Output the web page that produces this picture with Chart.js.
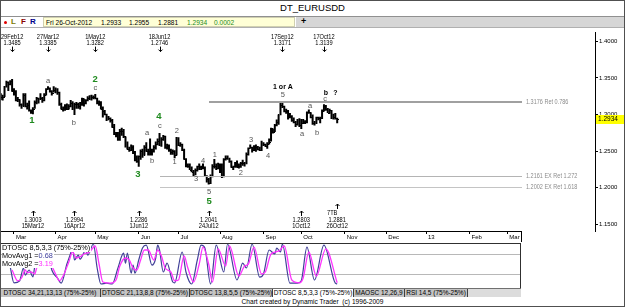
<!DOCTYPE html>
<html>
<head>
<meta charset="utf-8">
<script src="https://cdn.jsdelivr.net/npm/chart.js@4.4.0/dist/chart.umd.min.js"></script>
<style>
body { margin: 0; background: #fff; }
#wrap { position: relative; width: 625px; height: 307px; overflow: hidden; font-family: "Liberation Sans", Arial, sans-serif; color: #000; }
#title { position: absolute; left: 0; top: 3px; width: 625px; text-align: center; font-size: 9.5px; line-height: 10px; }
#tool { position: absolute; left: 0; top: 16px; width: 625px; height: 12px; border-top: 1px solid #909090; border-bottom: 1px solid #b0b0b0; box-sizing: border-box; }
#tool b { position: absolute; top: 0; font-size: 8px; line-height: 10px; }
#tool .dot { position: absolute; left: 4px; top: 4px; width: 3px; height: 3px; border-radius: 2px; background: #e00000; }
#quote { position: absolute; left: 43px; top: 0; width: 252px; height: 10px; background: #ffffd6; box-sizing: border-box; border: 1px solid #d0d0b0; }
#quote span { position: absolute; top: 0; font-size: 6.6px; line-height: 9px; white-space: nowrap; }
#strip { position: absolute; left: 296px; top: 0; width: 328px; height: 10px; background: #d6d6d6; }
#strip b { left: 5px; font-size: 9px; line-height: 9px; }
#price { position: absolute; left: 0; top: 28px; }
#osc { position: absolute; left: 0; top: 243px; }
.olab { position: absolute; left: 2px; background: #fff; font-size: 7.3px; line-height: 8px; white-space: nowrap; padding-right: 1px; }
#tabs { position: absolute; left: 0; top: 288px; width: 521px; height: 9px; background: #dcdcdc; border-top: 1px solid #707070; box-sizing: border-box; }
.tab { position: absolute; top: 0; height: 8px; font-size: 6.5px; line-height: 8px; text-align: center; background: #c4c4c4; border-right: 1px solid #404040; box-sizing: border-box; white-space: nowrap; }
.tab.on { background: #fff; }
#foot { position: absolute; left: 0; top: 297px; width: 625px; text-align: center; font-size: 6.6px; line-height: 9px; }
#frame { position: absolute; left: 0; top: 0; width: 625px; height: 307px; border: 1px solid #505050; box-sizing: border-box; pointer-events: none; }
</style>
</head>
<body>
<div id="wrap">
  <div id="title">DT_EURUSDD</div>
  <div id="tool">
    <span class="dot"></span>
    <b style="left:11px;color:#7a7a00">L</b>
    <b style="left:21px;color:#8b0000">F</b>
    <b style="left:30px;color:#00008b">R</b>
    <div id="quote">
      <span style="left:2px">Fri 26-Oct-2012</span>
      <span style="left:57px">1.2933</span>
      <span style="left:85px">1.2955</span>
      <span style="left:114px">1.2881</span>
      <span style="left:143px;color:#1c8c1c">1.2934</span>
      <span style="left:170px;color:#1c8c1c">0.0002</span>
    </div>
    <div id="strip"><b>+</b></div>
  </div>
  <canvas id="price" width="625" height="214"></canvas>
  <canvas id="osc" width="521" height="45"></canvas>
  <div class="olab" style="top:244px">DTOSC 8,5,3,3 (75%-25%)</div>
  <div class="olab" style="top:252px">MovAvg1 =<span style="color:#3c3c9c">0.68</span></div>
  <div class="olab" style="top:260px">MovAvg2 =<span style="color:#ff30ff">3.19</span></div>
  <div id="tabs">
    <div class="tab" style="left:0;width:101px">DTOSC 34,21,13,13 (75%-25%)</div>
    <div class="tab" style="left:101px;width:89px">DTOSC 21,13,8,8 (75%-25%)</div>
    <div class="tab" style="left:190px;width:83px">DTOSC 13,8,5,5 (75%-25%)</div>
    <div class="tab on" style="left:273px;width:81px">DTOSC 8,5,3,3 (75%-25%)</div>
    <div class="tab" style="left:354px;width:51px">MAOSC 12,26,9</div>
    <div class="tab" style="left:405px;width:63px">RSI 14,5 (75%-25%)</div>
  </div>
  <div id="foot">Chart created by Dynamic Trader&nbsp; (c) 1996-2009</div>
  <div id="frame"></div>
</div>
<script>
// trading-day index: 0 = Thu 1-Mar-2012, weekdays only
const firstDay = -7;

const highs = [
  1.3290, 1.3270, 1.3390, 1.3460, 1.3450, 1.3470, 1.3485,
  1.3360, 1.3330, 1.3240, 1.3210, 1.3150, 1.3290, 1.3290, 1.3160, 1.3190, 1.3070,
  1.3100, 1.3190, 1.3240, 1.3230, 1.3290, 1.3240, 1.3290, 1.3360, 1.3385, 1.3370,
  1.3330, 1.3385, 1.3370, 1.3360, 1.3310, 1.3160, 1.3110, 1.3140, 1.3150, 1.3140,
  1.3200, 1.3180, 1.3160, 1.3170, 1.3160, 1.3170, 1.3230, 1.3220, 1.3210, 1.3250,
  1.3265, 1.3270, 1.3260, 1.3282, 1.3230, 1.3190, 1.3180, 1.3110, 1.3060, 1.3010,
  1.2980, 1.2960, 1.2940, 1.2870, 1.2760, 1.2760, 1.2800, 1.2820, 1.2800, 1.2700,
  1.2630, 1.2560, 1.2590, 1.2580, 1.2500, 1.2440, 1.2440, 1.2520, 1.2530, 1.2580,
  1.2620, 1.2530, 1.2670, 1.2530, 1.2580, 1.2630, 1.2670, 1.2746, 1.2690, 1.2720,
  1.2710, 1.2600, 1.2590, 1.2530, 1.2520, 1.2510, 1.2693, 1.2690, 1.2620, 1.2600,
  1.2530, 1.2400, 1.2330, 1.2330, 1.2290, 1.2240, 1.2260, 1.2300, 1.2330, 1.2300,
  1.2330, 1.2290, 1.2170, 1.2130, 1.2180, 1.2320, 1.2390, 1.2330, 1.2340, 1.2330,
  1.2330, 1.2400, 1.2440, 1.2440, 1.2410, 1.2370, 1.2300, 1.2350, 1.2370, 1.2330,
  1.2350, 1.2380, 1.2350, 1.2480, 1.2550, 1.2590, 1.2560, 1.2580, 1.2590, 1.2570,
  1.2560, 1.2640, 1.2620, 1.2600, 1.2620, 1.2670, 1.2820, 1.2810, 1.2870, 1.2930,
  1.3000, 1.3170, 1.3171, 1.3120, 1.3080, 1.3060, 1.3020, 1.2990, 1.2960, 1.2910,
  1.2940, 1.2950, 1.2940, 1.2940, 1.2920, 1.3040, 1.3070, 1.3030, 1.3000, 1.2910,
  1.2970, 1.2970, 1.2970, 1.3070, 1.3139, 1.3130, 1.3090, 1.3080, 1.3060, 1.3010,
  1.3020, 1.2955
];
const lows = [
  1.3200, 1.3190, 1.3240, 1.3370, 1.3320, 1.3400, 1.3310,
  1.3260, 1.3180, 1.3170, 1.3110, 1.3080, 1.3110, 1.3100, 1.3070, 1.3040, 1.3010,
  1.3003, 1.3080, 1.3140, 1.3150, 1.3200, 1.3160, 1.3180, 1.3260, 1.3340, 1.3300,
  1.3260, 1.3300, 1.3290, 1.3270, 1.3120, 1.3070, 1.3040, 1.3050, 1.3060, 1.3070,
  1.3100, 1.3060, 1.2994, 1.3080, 1.3080, 1.3070, 1.3120, 1.3110, 1.3140, 1.3180,
  1.3200, 1.3190, 1.3210, 1.3210, 1.3140, 1.3120, 1.3070, 1.2960, 1.2990, 1.2910,
  1.2920, 1.2890, 1.2820, 1.2720, 1.2690, 1.2640, 1.2640, 1.2710, 1.2680, 1.2550,
  1.2520, 1.2490, 1.2500, 1.2460, 1.2360, 1.2340, 1.2286, 1.2380, 1.2410, 1.2440,
  1.2490, 1.2440, 1.2440, 1.2440, 1.2480, 1.2520, 1.2580, 1.2570, 1.2560, 1.2640,
  1.2530, 1.2520, 1.2490, 1.2450, 1.2450, 1.2400, 1.2440, 1.2570, 1.2560, 1.2500,
  1.2380, 1.2280, 1.2270, 1.2240, 1.2210, 1.2160, 1.2170, 1.2220, 1.2240, 1.2240,
  1.2250, 1.2150, 1.2070, 1.2041, 1.2050, 1.2140, 1.2260, 1.2240, 1.2250, 1.2200,
  1.2130, 1.2140, 1.2370, 1.2380, 1.2340, 1.2270, 1.2240, 1.2270, 1.2270, 1.2260,
  1.2270, 1.2300, 1.2290, 1.2320, 1.2440, 1.2530, 1.2480, 1.2500, 1.2490, 1.2510,
  1.2500, 1.2500, 1.2570, 1.2560, 1.2530, 1.2590, 1.2630, 1.2740, 1.2760, 1.2840,
  1.2860, 1.2990, 1.3090, 1.3030, 1.3010, 1.2930, 1.2950, 1.2900, 1.2880, 1.2830,
  1.2850, 1.2830, 1.2803, 1.2870, 1.2870, 1.2880, 1.3010, 1.2950, 1.2860, 1.2850,
  1.2870, 1.2920, 1.2880, 1.2940, 1.3040, 1.3050, 1.3020, 1.3010, 1.2940, 1.2930,
  1.2930, 1.2881
];
const closes = [
  1.3240, 1.3245, 1.3385, 1.3450, 1.3415, 1.3460, 1.3325,
  1.3320, 1.3200, 1.3210, 1.3140, 1.3120, 1.3270, 1.3120, 1.3130, 1.3060, 1.3040,
  1.3080, 1.3170, 1.3230, 1.3220, 1.3230, 1.3200, 1.3270, 1.3350, 1.3360, 1.3320,
  1.3300, 1.3340, 1.3330, 1.3310, 1.3140, 1.3070, 1.3100, 1.3110, 1.3080, 1.3120,
  1.3160, 1.3080, 1.3150, 1.3140, 1.3110, 1.3140, 1.3220, 1.3160, 1.3200, 1.3220,
  1.3230, 1.3240, 1.3235, 1.3230, 1.3160, 1.3150, 1.3080, 1.3050, 1.3000, 1.2950,
  1.2950, 1.2920, 1.2830, 1.2730, 1.2720, 1.2670, 1.2780, 1.2780, 1.2700, 1.2580,
  1.2530, 1.2520, 1.2560, 1.2480, 1.2380, 1.2360, 1.2430, 1.2500, 1.2450, 1.2560,
  1.2500, 1.2500, 1.2480, 1.2500, 1.2560, 1.2600, 1.2640, 1.2580, 1.2660, 1.2700,
  1.2550, 1.2570, 1.2510, 1.2490, 1.2500, 1.2440, 1.2670, 1.2580, 1.2600, 1.2520,
  1.2390, 1.2290, 1.2300, 1.2240, 1.2220, 1.2200, 1.2240, 1.2290, 1.2280, 1.2270,
  1.2280, 1.2160, 1.2120, 1.2060, 1.2160, 1.2290, 1.2300, 1.2270, 1.2300, 1.2220,
  1.2160, 1.2390, 1.2400, 1.2410, 1.2370, 1.2280, 1.2290, 1.2330, 1.2280, 1.2290,
  1.2340, 1.2330, 1.2330, 1.2460, 1.2540, 1.2560, 1.2520, 1.2570, 1.2560, 1.2530,
  1.2520, 1.2580, 1.2590, 1.2570, 1.2600, 1.2630, 1.2810, 1.2760, 1.2860, 1.2900,
  1.3000, 1.3130, 1.3110, 1.3050, 1.3050, 1.2970, 1.2980, 1.2930, 1.2900, 1.2870,
  1.2920, 1.2860, 1.2890, 1.2900, 1.2900, 1.3030, 1.3040, 1.2970, 1.2880, 1.2880,
  1.2960, 1.2950, 1.2950, 1.3050, 1.3120, 1.3080, 1.3020, 1.3060, 1.2970, 1.2970,
  1.2950, 1.2934
];

// axes
const monthIdx = [0, 22, 43, 66, 87, 109, 132, 152, 175, 197, 218, 241, 261];
const monthLabels = ['Mar', 'Apr', 'May', 'Jun', 'Jul', 'Aug', 'Sep', 'Oct', 'Nov', 'Dec', '13', 'Feb', 'Mar'];
const priceTicks = [1.15, 1.20, 1.25, 1.30, 1.35, 1.40];

// retracement / extension levels
const levelValues = [1.3176, 1.2161, 1.2002];
const levelNames = ['Ret 0.786', 'EX Ret 1.272', 'EX Ret 1.618'];
const levelFrom = [103, 77, 77];
const levelTo = 269;

// wave labels
const waveText = ['1', 'a', 'b', '2', 'c', '3', 'a', 'b', '4', 'c', '1', '2', '3', '4', '5', '5', '1', '2', '3', '4', '1 or A', '5', 'a', 'a', 'b', 'b', 'c', '?'];
const waveIdx = [9.5, 18, 31.7, 43, 43, 65.6, 70.4, 73, 76.7, 77.2, 85, 86.2, 96.3, 100, 103.2, 103.2, 106.3, 120, 125.4, 134.4, 142.3, 142.3, 152.4, 156.6, 160.3, 165, 164.6, 170];
const wavePrice = [1.2917, 1.3465, 1.2890, 1.3480, 1.3370, 1.2182, 1.2743, 1.2360, 1.2970, 1.2837, 1.2350, 1.2770, 1.2115, 1.2370, 1.1940, 1.1807, 1.2450, 1.2195, 1.2650, 1.2436, 1.3372, 1.3265, 1.2730, 1.3118, 1.2743, 1.3300, 1.3211, 1.3300];
const waveKind = ['g', 's', 's', 'g', 's', 'g', 's', 's', 'g', 's', 's', 's', 's', 's', 's', 'g', 's', 's', 's', 's', 'k', 's', 's', 's', 's', 'k', 's', 'k'];

// pivot notes
const topIdx = [-1, 18, 43, 77, 142, 164];
const topDate = ['29Feb12', '27Mar12', '1May12', '18Jun12', '17Sep12', '17Oct12'];
const topPrice = ['1.3485', '1.3385', '1.3282', '1.2746', '1.3171', '1.3139'];
const botIdx = [10, 32, 66, 103, 152, 171];
const botPrice = ['1.3003', '1.2994', '1.2286', '1.2041', '1.2803', '1.2881'];
const botDate = ['15Mar12', '16Apr12', '1Jun12', '24Jul12', '1Oct12', '26Oct12'];
const botTag = ['', '', '', '', '', '7TB'];

// DTOSC 8,5,3,3 and its moving average
const oscIdx = [-2, 0, 3, 5, 6, 8, 10, 11, 14, 17, 19, 20, 23, 25, 28, 30, 31, 32, 34, 35, 38, 39, 42, 44, 46, 49, 52, 55, 58, 59, 60, 62, 63, 64, 66, 68, 70, 73, 75, 76, 77, 79, 81, 84, 85, 89, 91, 94, 97, 99, 101, 104, 107, 111, 113, 118, 121, 123, 126, 130, 132, 135, 138, 139, 141, 142, 146, 150, 152, 155, 159, 164, 170, 171];
const oscMain = [43, 3, 8, 40, 22, 35, 18, 43, 60, 70, 55, 35, 15, 2, 50, 77, 93, 60, 72, 62, 85, 72, 100, 40, 0, 2, 0, 40, 77, 52, 77, 27, 47, 27, 60, 90, 97, 47, 65, 97, 85, 30, 52, 5, 3, 80, 30, 0, 60, 97, 90, 0, 97, 30, 100, 10, 52, 40, 100, 17, 25, 85, 75, 90, 80, 100, 2, 2, 8, 92, 10, 97, 2, 0];
const sigIdx = [-1, 2, 4, 6, 7, 9, 11, 12, 15, 18, 20, 22, 24, 26, 29, 31, 33, 35, 37, 39, 40, 43, 45, 47, 51, 54, 56, 59, 61, 63, 65, 67, 69, 71, 74, 76, 78, 80, 83, 85, 87, 90, 92, 95, 98, 100, 103, 105, 108, 112, 114, 119, 122, 124, 127, 131, 133, 136, 140, 143, 147, 151, 153, 156, 160, 165, 171];
const sigVal = [35, 8, 15, 35, 28, 30, 25, 40, 60, 60, 45, 25, 8, 20, 55, 80, 65, 68, 75, 78, 80, 95, 50, 5, 2, 10, 45, 65, 60, 40, 35, 60, 85, 85, 60, 85, 70, 40, 30, 8, 10, 70, 40, 5, 50, 92, 50, 5, 88, 45, 95, 20, 45, 50, 92, 25, 30, 75, 82, 95, 10, 3, 15, 80, 20, 88, 3];
const oscBands = [25, 75];

const FONT = '"Liberation Sans", Arial, sans-serif';

function txt(ctx, s, x, y, size, color, align, bold, sx) {
    ctx.save();
    ctx.font = (bold ? 'bold ' : '') + size + 'px ' + FONT;
    ctx.fillStyle = color;
    ctx.textAlign = align || 'center';
    ctx.textBaseline = 'middle';
    ctx.translate(x, y);
    ctx.scale(sx || 1, 1);
    ctx.fillText(s, 0, 0);
    ctx.restore();
}

function arrow(ctx, x, y0, y1, up) {
    x = Math.round(x) + 0.5;
    ctx.beginPath();
    ctx.moveTo(x, y0);
    ctx.lineTo(x, y1);
    const tip = up ? y0 : y1;
    const d = up ? 2 : -2;
    ctx.moveTo(x - 2, tip + d);
    ctx.lineTo(x, tip);
    ctx.lineTo(x + 2, tip + d);
    ctx.stroke();
}

const priceOverlay = {
    id: 'priceOverlay',
    afterDatasetsDraw(chart) {
        const { ctx, chartArea: a, scales: { x, y } } = chart;
        ctx.save();

        // open / close ticks
        ctx.fillStyle = '#000';
        closes.forEach((c, i) => {
            const px = Math.round(x.getPixelForValue(firstDay + i));
            const o = i ? closes[i - 1] : c;
            ctx.fillRect(px - 2, Math.round(y.getPixelForValue(o)), 1, 1);
            ctx.fillRect(px + 1, Math.round(y.getPixelForValue(c)), 1, 1);
        });

        // levels
        const lvlColor = ['#a0a0a0', '#b4b4b4', '#c4c4c4'];
        const lvlWidth = [2, 1, 1];
        levelValues.forEach((v, i) => {
            const py = Math.round(y.getPixelForValue(v));
            const x0 = Math.round(x.getPixelForValue(levelFrom[i]));
            const x1 = Math.round(x.getPixelForValue(levelTo));
            ctx.fillStyle = lvlColor[i];
            ctx.fillRect(x0, py - (lvlWidth[i] > 1 ? 1 : 0), x1 - x0, lvlWidth[i]);
            txt(ctx, v.toFixed(4) + ' ' + levelNames[i], x1 + 4, py, 6.5, '#8c8c8c', 'left', false, 0.85);
        });

        // wave labels
        waveText.forEach((s, i) => {
            const px = x.getPixelForValue(waveIdx[i]);
            const py = y.getPixelForValue(wavePrice[i]);
            const k = waveKind[i];
            if (k === 'g') txt(ctx, s, px, py, 9.5, '#1f8a1f', 'center', true);
            else if (k === 'k') txt(ctx, s, px, py, 7, '#000', 'center', true);
            else txt(ctx, s, px, py, 7.5, '#555', 'center', false);
        });

        // pivot notes
        ctx.strokeStyle = '#000';
        ctx.lineWidth = 1;
        topIdx.forEach((d, i) => {
            const px = x.getPixelForValue(d);
            txt(ctx, topDate[i], px, a.top + 5, 6.3, '#000', 'center', false, 0.9);
            txt(ctx, topPrice[i], px, a.top + 11, 6.3, '#000', 'center', false, 0.9);
            arrow(ctx, px, a.top + 14, a.top + 19, false);
        });
        botIdx.forEach((d, i) => {
            const px = x.getPixelForValue(d);
            if (botTag[i]) {
                arrow(ctx, px, a.bottom - 27, a.bottom - 22, true);
                txt(ctx, botTag[i], px - 5, a.bottom - 18, 6.3, '#000', 'center', false, 0.9);
                txt(ctx, botPrice[i], px, a.bottom - 11, 6.3, '#000', 'center', false, 0.9);
                txt(ctx, botDate[i], px, a.bottom - 5, 6.3, '#000', 'center', false, 0.9);
            } else {
                arrow(ctx, px, a.bottom - 20, a.bottom - 15, true);
                txt(ctx, botPrice[i], px, a.bottom - 11, 6.3, '#000', 'center', false, 0.9);
                txt(ctx, botDate[i], px, a.bottom - 5, 6.3, '#000', 'center', false, 0.9);
            }
        });

        // date axis line, only under the data area
        const xEnd = Math.round(x.getPixelForValue(levelTo)) - 1;
        ctx.fillStyle = '#000';
        ctx.fillRect(0, Math.round(a.bottom), xEnd, 1);
        ctx.fillRect(xEnd, Math.round(a.bottom), 1, chart.height - a.bottom);

        // last price box on the price axis
        const last = closes[closes.length - 1];
        const ly = Math.round(y.getPixelForValue(last));
        ctx.fillStyle = '#ffff00';
        ctx.fillRect(a.right + 1, ly - 4, 30, 9);
        txt(ctx, last.toFixed(4), a.right + 3, ly + 0.5, 6.5, '#000', 'left', false);
        ctx.restore();
    }
};

new Chart(document.getElementById('price'), {
    type: 'bar',
    data: {
        datasets: [{
            data: highs.map((h, i) => ({ x: firstDay + i, y: [lows[i], h] })),
            backgroundColor: '#000',
            barThickness: 2,
            inflateAmount: 0,
            borderWidth: 0
        }]
    },
    options: {
        responsive: false,
        animation: false,
        events: [],
        layout: { padding: 0 },
        plugins: { legend: { display: false }, tooltip: { enabled: false } },
        scales: {
            x: {
                type: 'linear',
                min: -7.4,
                max: 307.4,
                offset: false,
                border: { display: false },
                grid: { display: true, offset: false, drawOnChartArea: false, tickLength: 3, color: '#000' },
                ticks: {
                    autoSkip: false, maxRotation: 0, align: 'start', labelOffset: 2, padding: 0,
                    font: { family: 'Liberation Sans', size: 6 }, color: '#000',
                    callback: (v) => monthLabels[monthIdx.indexOf(v)]
                },
                afterBuildTicks: (s) => { s.ticks = monthIdx.map(v => ({ value: v })); },
                afterFit: (s) => { s.height = 11; }
            },
            y: {
                position: 'right',
                min: 1.14064,
                max: 1.41203,
                border: { display: true, color: '#000' },
                grid: { display: true, drawOnChartArea: false, tickLength: 3, color: '#000' },
                ticks: {
                    padding: 1, font: { family: 'Liberation Sans', size: 6 }, color: '#000',
                    callback: (v) => v.toFixed(4)
                },
                afterBuildTicks: (s) => { s.ticks = priceTicks.map(v => ({ value: v })); },
                afterFit: (s) => { s.width = 30; }
            }
        }
    },
    plugins: [priceOverlay]
});

const oscFrame = {
    id: 'oscFrame',
    beforeDatasetsDraw(chart) {
        const { ctx, chartArea: a, scales: { y } } = chart;
        ctx.save();
        ctx.fillStyle = '#b8b8b8';
        oscBands.forEach(v => {
            ctx.fillRect(a.left, Math.round(y.getPixelForValue(v)), a.right - a.left, 1);
        });
        ctx.restore();
    },
    afterDraw(chart) {
        const { ctx } = chart;
        ctx.save();
        ctx.fillStyle = '#303030';
        ctx.fillRect(0, 0, chart.width, 1);
        ctx.fillRect(chart.width - 1, 0, 1, chart.height);
        ctx.restore();
    }
};

new Chart(document.getElementById('osc'), {
    type: 'line',
    data: {
        datasets: [
            {
                data: sigIdx.map((d, i) => ({ x: d, y: sigVal[i] })),
                borderColor: '#ff33ff', borderWidth: 1.3, pointRadius: 0, cubicInterpolationMode: 'monotone'
            },
            {
                data: oscIdx.map((d, i) => ({ x: d, y: oscMain[i] })),
                borderColor: '#404098', borderWidth: 1.2, pointRadius: 0, cubicInterpolationMode: 'monotone'
            }
        ]
    },
    options: {
        responsive: false,
        animation: false,
        events: [],
        layout: { padding: 0 },
        plugins: { legend: { display: false }, tooltip: { enabled: false } },
        scales: {
            x: { type: 'linear', display: false, min: -7.4, max: 268.26 },
            y: { display: false, min: -10, max: 102.5 }
        }
    },
    plugins: [oscFrame]
});
</script>
</body>
</html>
